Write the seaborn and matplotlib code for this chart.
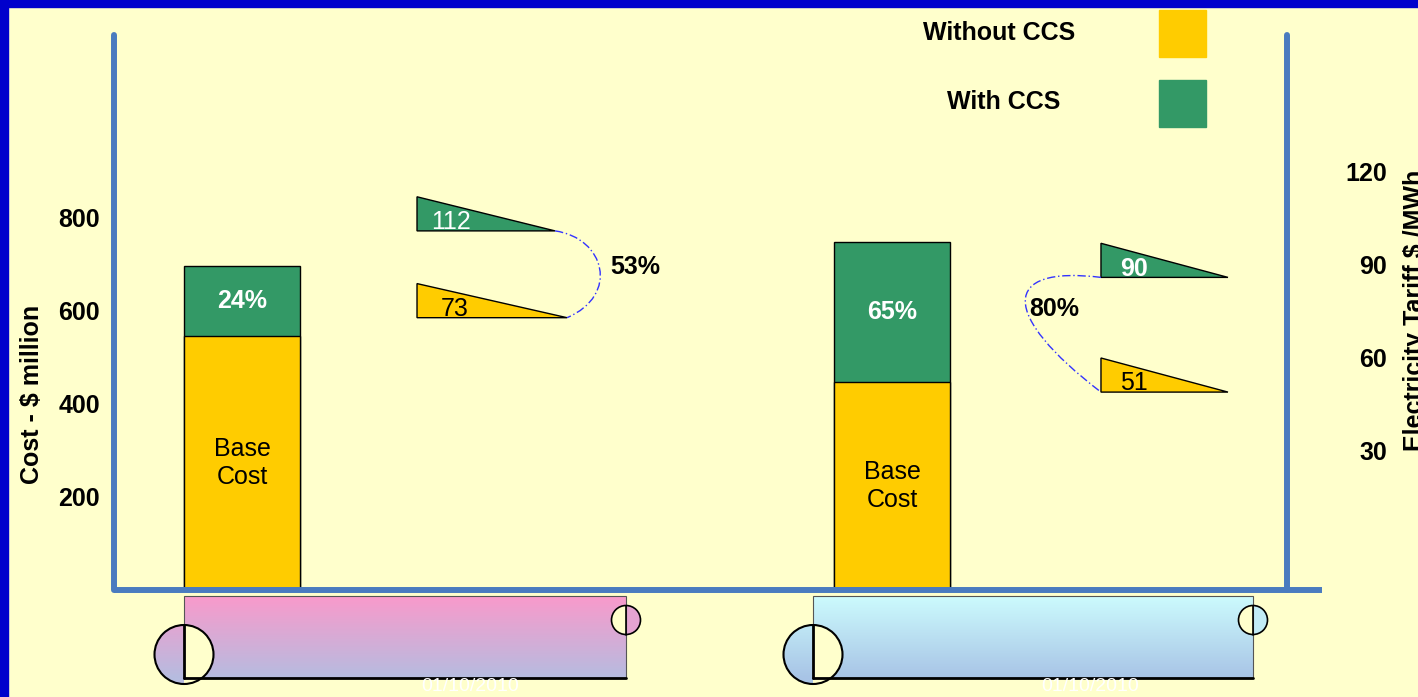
import numpy as np
import matplotlib
matplotlib.use("Agg")
import matplotlib.pyplot as plt
import matplotlib.colors as mcolors
import seaborn as sns
from matplotlib.patches import Rectangle, Circle, Wedge, PathPatch
from matplotlib.path import Path

# ---- data ----
cases = ["Case 1", "Case 2"]
base_cost = [546, 447]            # $ million, without CCS
cost_with_ccs = [697, 748]        # $ million, with CCS
ccs_cost_pct = ["24%", "65%"]
tariff_without = [73, 51]         # $/MWh
tariff_with = [112, 90]
tariff_rise = ["53%", "80%"]
# where each tariff wedge sits on the right axis
wedge_level_without = [73, 49]
wedge_level_with = [101, 86]
dates = ["01/10/2010", "01/10/2010"]

YELLOW = "#FFCC00"
GREEN = "#339966"
BG = "#FFFFCC"
AXBLUE = "#4A7BBF"
FS = 18

sns.set_style("white")
plt.rcParams["font.family"] = ["Liberation Sans", "DejaVu Sans"]
plt.rcParams["text.color"] = "black"
plt.rcParams["axes.labelcolor"] = "black"
plt.rcParams["xtick.color"] = "black"
plt.rcParams["ytick.color"] = "black"

W, H = 1418, 697
fig = plt.figure(figsize=(W / 100, H / 100), dpi=100, facecolor=BG)

# slide decoration layer, pixel coordinates
deco = fig.add_axes([0, 0, 1, 1], zorder=0)
deco.axis("off")
deco.add_patch(Rectangle((0, 0), W, 7, color="#0000CC"))
deco.add_patch(Rectangle((0, 0), 8, H, color="#0000CC"))

# legend
deco.text(1075, 33, "Without CCS", ha="right", va="center", fontsize=FS, fontweight="bold")
deco.text(1060, 102, "With CCS", ha="right", va="center", fontsize=FS, fontweight="bold")
deco.add_patch(Rectangle((1159, 10), 47, 47, color=YELLOW))
deco.add_patch(Rectangle((1159, 80), 47, 47, color=GREEN))


def scroll(x0, x1, ctop, cbot, date, date_x):
    y0, y1 = 596, 678
    cy, r = 654.5, 29.5
    ys = np.linspace(y0, 685, 120)
    t = np.clip((ys - y0) / (y1 - y0), 0, 1)[:, None]
    c0 = np.array(mcolors.to_rgb(ctop))
    c1 = np.array(mcolors.to_rgb(cbot))
    img = (c0 * (1 - t) + c1 * t)[:, None, :]
    for clip in (Rectangle((x0, y0), x1 - x0, y1 - y0), Circle((x0, cy), r)):
        clip.set_transform(deco.transData)
        im = deco.imshow(img, extent=(x0 - r - 2, x1, 685, y0), origin="upper",
                         aspect="auto", interpolation="bilinear", zorder=1)
        im.set_clip_path(clip)
    deco.add_patch(Wedge((x0, cy), r, -90, 90, fc=BG, ec="none", zorder=2))
    deco.add_patch(Rectangle((x0, y0), x1 - x0, y1 - y0, fill=False, ec="#555555", lw=0.8, zorder=3))
    deco.add_patch(Circle((x0, cy), r, fill=False, ec="black", lw=1.5, zorder=3))
    deco.plot([x0, x0], [cy - r, y1], color="black", lw=2, zorder=3)
    deco.plot([x0, x1], [y1, y1], color="black", lw=2, zorder=3)
    # small curl on the right
    sr, scy = 14.5, 620
    ts = (scy - y0) / (y1 - y0)
    deco.add_patch(Circle((x1, scy), sr, fc=c0 * (1 - ts) + c1 * ts, ec="none", zorder=2))
    deco.add_patch(Wedge((x1, scy), sr, 90, 270, fc=BG, ec="none", zorder=2))
    deco.add_patch(Circle((x1, scy), sr, fill=False, ec="black", lw=1.2, zorder=3))
    deco.plot([x1, x1], [scy - sr, scy + sr], color="black", lw=1.2, zorder=3)
    deco.text(date_x, 691, date, color="white", fontsize=14, ha="center", va="baseline", zorder=4)


scroll(184, 626, "#F99ACB", "#B6BCE0", dates[0], 470)
scroll(813, 1253, "#CCFBFD", "#A8C4E6", dates[1], 1090)
deco.set_xlim(0, W)
deco.set_ylim(H, 0)

# ---- cost bars (left axis) ----
ax = fig.add_axes([114 / W, 107 / H, 1173 / W, 555 / H], zorder=1)
ax.patch.set_alpha(0)
sns.barplot(x=cases, y=cost_with_ccs, color=GREEN, saturation=1, width=0.178,
            edgecolor="black", linewidth=1, errorbar=None, ax=ax)
sns.barplot(x=cases, y=base_cost, color=YELLOW, saturation=1, width=0.178,
            edgecolor="black", linewidth=1, errorbar=None, ax=ax)
ax.set_xlim(-0.197, 1.6077)
ax.set_ylim(0, 1193.5)
ax.set_xticks([])
ax.set_xlabel("")
ax.set_yticks([200, 400, 600, 800], labels=["200", "400", "600", "800"],
              fontsize=FS, fontweight="bold")
ax.tick_params(axis="y", length=0, pad=10)
ax.set_ylabel("Cost - $ million", fontsize=FS, fontweight="bold")
ax.yaxis.set_label_coords(-0.0695, 0.3532)
ax.yaxis.label.set(ha="center", va="center")
for s in ("top", "bottom"):
    ax.spines[s].set_visible(False)
for s in ("left", "right"):
    ax.spines[s].set_color(AXBLUE)
    ax.spines[s].set_linewidth(4.3)
    ax.spines[s].set_capstyle("round")
ax.plot([0, 1.0298], [0, 0], transform=ax.get_yaxis_transform(), color=AXBLUE,
        lw=4.3, solid_capstyle="butt", clip_on=False, zorder=5)

for i in range(len(cases)):
    ax.text(i, (base_cost[i] + cost_with_ccs[i]) / 2, ccs_cost_pct[i], color="white",
            fontsize=FS, fontweight="bold", ha="center", va="center")
    ax.text(i, base_cost[i] / 2, "Base\nCost", fontsize=FS, ha="center", va="center")

# ---- tariff wedges (right axis) ----
ax2 = ax.twinx()
ax2.set_ylim(-14.84, 164.19)
ax2.set_yticks([30, 60, 90, 120], labels=["30", "60", "90", "120"],
               ha="right", fontsize=FS, fontweight="bold")
ax2.tick_params(axis="y", length=0, pad=72)
for s in ax2.spines.values():
    s.set_visible(False)
ax2.set_ylabel("Electricity Tariff $ /MWh", fontsize=FS, fontweight="bold")
ax2.yaxis.set_label_coords(1.1091, 0.5045)
ax2.yaxis.label.set(ha="center", va="center", rotation=90)

wedge_x0 = [0.2692, 1.3215]
wedge_x1_with = [0.4815, 1.5169]
wedge_x1_without = [0.5, 1.5169]
wedge_h = 11
with_weight = ["normal", "bold"]
txt_dx_with = [0.022, 0.029]
txt_dx_without = [0.037, 0.029]

for i in range(len(cases)):
    x0 = wedge_x0[i]
    lw_, lo = wedge_level_with[i], wedge_level_without[i]
    ax2.fill([x0, x0, wedge_x1_with[i]], [lw_, lw_ + wedge_h, lw_], fc=GREEN, ec="black", lw=1)
    ax2.fill([x0, x0, wedge_x1_without[i]], [lo, lo + wedge_h, lo], fc=YELLOW, ec="black", lw=1)
    ax2.text(x0 + txt_dx_with[i], lw_ + 0.6, str(tariff_with[i]), color="white",
             fontsize=FS, fontweight=with_weight[i], va="baseline")
    ax2.text(x0 + txt_dx_without[i], lo + 0.6, str(tariff_without[i]), color="black",
             fontsize=FS, va="baseline")

# dash-dot connectors between the wedges
curve_style = dict(fill=False, ec="#3333FF", lw=1, linestyle=(0, (6, 2, 1, 2)))
p_left = Path([(wedge_x1_with[0], wedge_level_with[0]), (0.5585, 98.7), (0.5815, 80.3),
               (wedge_x1_without[0], wedge_level_without[0])],
              [Path.MOVETO, Path.CURVE4, Path.CURVE4, Path.CURVE4])
p_right = Path([(wedge_x0[1], wedge_level_with[1]), (1.1662, 90.0), (1.1662, 73.9),
                (wedge_x0[1], wedge_level_without[1])],
               [Path.MOVETO, Path.CURVE4, Path.CURVE4, Path.CURVE4])
ax2.add_patch(PathPatch(p_left, **curve_style))
ax2.add_patch(PathPatch(p_right, **curve_style))
ax2.text(0.566, 87.1, tariff_rise[0], fontsize=FS, fontweight="bold", va="baseline")
ax2.text(1.2108, 73.5, tariff_rise[1], fontsize=FS, fontweight="bold", va="baseline")

fig.savefig("out.png", dpi=100, facecolor=BG)
